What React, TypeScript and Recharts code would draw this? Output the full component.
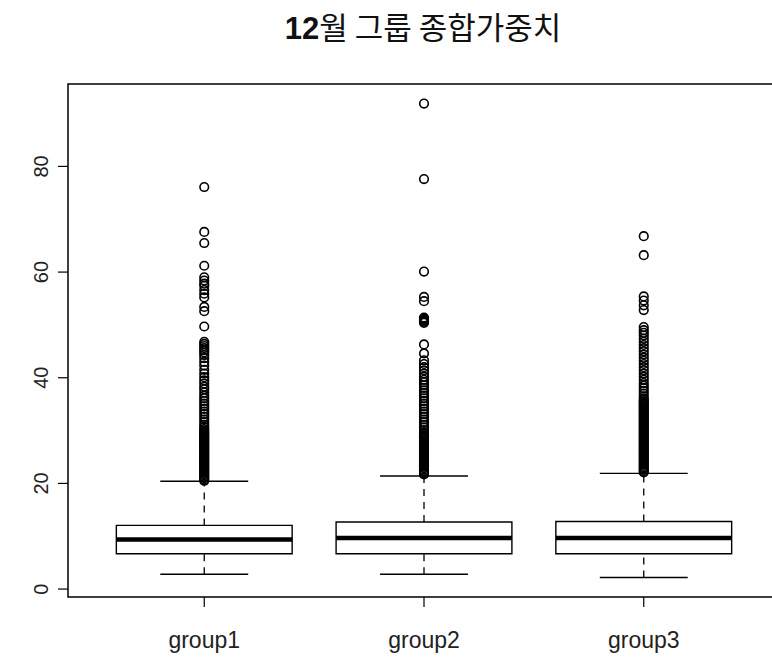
import React from 'react'
import {
  ComposedChart,
  XAxis,
  YAxis,
  Scatter,
  ReferenceArea,
  ReferenceLine,
} from 'recharts'

const GROUPS = ['group1', 'group2', 'group3']
const Y_TICKS = [0, 20, 40, 60, 80]

// box statistics per group
const LOWER = [2.8, 2.8, 2.2]
const Q1 = [6.7, 6.7, 6.7]
const MEDIAN = [9.4, 9.65, 9.65]
const Q3 = [12.05, 12.7, 12.8]
const UPPER = [20.4, 21.4, 21.9]

const OUT_GROUP1 = [
  76.1, 67.6, 65.5, 61.2, 59.0, 58.4, 57.8, 57.4, 56.6, 55.9, 55.2, 53.4, 52.6, 49.7,
  46.8, 46.4, 46.0, 45.6, 45.2, 44.8, 44.3, 43.7, 43.0, 42.3, 41.5, 40.8, 40.1, 39.5,
  38.9, 38.3, 37.8, 37.2, 36.6, 36.1, 35.6, 35.1, 34.6, 34.1, 33.6, 33.1, 32.6, 32.1,
  31.6, 31.1, 30.7, 30.3,
  30.0, 29.75, 29.5, 29.25, 29.0, 28.75, 28.5, 28.25, 28.0, 27.75, 27.5, 27.25, 27.0,
  26.75, 26.5, 26.25, 26.0, 25.75, 25.5, 25.25, 25.0, 24.75, 24.5, 24.25, 24.0, 23.75,
  23.5, 23.25, 23.0, 22.75, 22.5, 22.25, 22.0, 21.75, 21.5, 21.25, 21.0, 20.75, 20.5,
]

const OUT_GROUP2 = [
  91.9, 77.6, 60.1, 55.3, 54.5, 51.4, 51.2, 51.0, 50.8, 50.6, 50.4, 46.3, 44.6,
  43.3, 42.6, 42.0, 41.4, 40.8, 40.2, 39.6, 39.1, 38.6, 38.1, 37.6, 37.1, 36.6, 36.1,
  35.6, 35.1, 34.6, 34.1, 33.6, 33.1, 32.6, 32.1, 31.6, 31.1, 30.6, 30.1, 29.7,
  29.4, 29.15, 28.9, 28.65, 28.4, 28.15, 27.9, 27.65, 27.4, 27.15, 26.9, 26.65, 26.4,
  26.15, 25.9, 25.65, 25.4, 25.15, 24.9, 24.65, 24.4, 24.15, 23.9, 23.65, 23.4, 23.15,
  22.9, 22.65, 22.4, 22.15, 21.9, 21.7,
]

const OUT_GROUP3 = [
  66.8, 63.2, 55.4, 54.6, 53.7, 52.8, 49.6,
  49.0, 48.5, 48.0, 47.4, 46.8, 46.2, 45.6, 45.0, 44.4, 43.8, 43.2, 42.6, 42.0, 41.4,
  40.8, 40.2, 39.6, 39.0, 38.5, 38.0, 37.5, 37.0, 36.5, 36.1,
  35.8, 35.55, 35.3, 35.05, 34.8, 34.55, 34.3, 34.05, 33.8, 33.55, 33.3, 33.05, 32.8,
  32.55, 32.3, 32.05, 31.8, 31.55, 31.3, 31.05, 30.8, 30.55, 30.3, 30.05, 29.8, 29.55,
  29.3, 29.05, 28.8, 28.55, 28.3, 28.05, 27.8, 27.55, 27.3, 27.05, 26.8, 26.55, 26.3,
  26.05, 25.8, 25.55, 25.3, 25.05, 24.8, 24.55, 24.3, 24.05, 23.8, 23.55, 23.3, 23.05,
  22.8, 22.55, 22.3, 22.1,
]

const OUTLIERS = [OUT_GROUP1, OUT_GROUP2, OUT_GROUP3]

const points = OUTLIERS.flatMap((vals, i) => vals.map(v => ({ x: i + 1, y: v })))

const FONT = '"Liberation Sans", Arial, sans-serif'
const BOX_HALF = 0.4
const STAPLE_HALF = 0.2

const OpenCircle = (props: any) => (
  <circle cx={props.cx} cy={props.cy} r={4.3} fill="none" stroke="#000" strokeWidth={1.6} />
)

const YTick = ({ y, payload }: any) => (
  <text
    x={48}
    y={y}
    transform={`rotate(-90, 48, ${y})`}
    textAnchor="middle"
    fontSize={20}
    fontFamily={FONT}
    fill="#222"
  >
    {payload.value}
  </text>
)

const XTick = ({ x, y, payload }: any) => (
  <text x={x} y={y + 39} textAnchor="middle" fontSize={23} fontFamily={FONT} fill="#222">
    {GROUPS[payload.value - 1]}
  </text>
)

export default function App() {
  return (
    <div style={{ position: 'absolute', left: 0, top: 0, width: 772, height: 660, overflow: 'hidden', background: '#fff' }}>
      <svg width={772} height={60} style={{ position: 'absolute', left: 0, top: 0 }}>
        <text x={423} y={39} textAnchor="middle" fontSize={31} fill="#111">
          <tspan fontFamily={FONT} fontWeight="bold">12</tspan>
          <tspan fontFamily='"Noto Sans CJK KR", sans-serif'>월 그룹 종합가중치</tspan>
        </text>
      </svg>
      <ComposedChart
        width={800}
        height={660}
        margin={{ top: 84, right: 20, bottom: 0, left: 0 }}
      >
        <XAxis
          dataKey="x"
          type="number"
          domain={[0.38, 3.62]}
          ticks={[1, 2, 3]}
          allowDataOverflow
          axisLine={false}
          tickSize={10}
          tickLine={{ stroke: '#000', strokeWidth: 1.2 }}
          tick={<XTick />}
          height={63}
        />
        <YAxis
          type="number"
          domain={[-1.5, 95.6]}
          ticks={Y_TICKS}
          interval={0}
          allowDataOverflow
          axisLine={false}
          tickSize={10}
          tickLine={{ stroke: '#000', strokeWidth: 1.2 }}
          tick={<YTick />}
          width={68}
        />
        <ReferenceArea
          x1={0.38}
          x2={3.62}
          y1={-1.5}
          y2={95.6}
          fill="none"
          stroke="#000"
          strokeWidth={1.5}
          ifOverflow="visible"
        />
        {GROUPS.map((_, i) => {
          const g = i + 1
          return (
            <React.Fragment key={g}>
              <ReferenceLine
                segment={[{ x: g, y: Q3[i] }, { x: g, y: UPPER[i] }]}
                stroke="#000"
                strokeWidth={1.3}
                strokeDasharray="7 6"
              />
              <ReferenceLine
                segment={[{ x: g, y: LOWER[i] }, { x: g, y: Q1[i] }]}
                stroke="#000"
                strokeWidth={1.3}
                strokeDasharray="7 6"
              />
              <ReferenceLine
                segment={[{ x: g - STAPLE_HALF, y: UPPER[i] }, { x: g + STAPLE_HALF, y: UPPER[i] }]}
                stroke="#000"
                strokeWidth={1.4}
              />
              <ReferenceLine
                segment={[{ x: g - STAPLE_HALF, y: LOWER[i] }, { x: g + STAPLE_HALF, y: LOWER[i] }]}
                stroke="#000"
                strokeWidth={1.4}
              />
              <ReferenceArea
                x1={g - BOX_HALF}
                x2={g + BOX_HALF}
                y1={Q1[i]}
                y2={Q3[i]}
                fill="#fff"
                fillOpacity={1}
                stroke="#000"
                strokeWidth={1.4}
              />
              <ReferenceLine
                segment={[{ x: g - BOX_HALF, y: MEDIAN[i] }, { x: g + BOX_HALF, y: MEDIAN[i] }]}
                stroke="#000"
                strokeWidth={4.5}
              />
            </React.Fragment>
          )
        })}
        <Scatter data={points} dataKey="y" shape={OpenCircle} isAnimationActive={false} />
      </ComposedChart>
    </div>
  )
}
